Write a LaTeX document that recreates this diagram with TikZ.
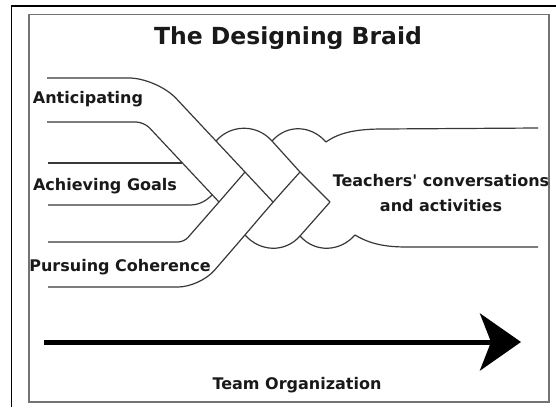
\documentclass[tikz,border=0pt]{standalone}
\usepackage{fontspec}
\newfontfamily\braidfont{DejaVu Sans}
\usetikzlibrary{arrows.meta}
\begin{document}
\begin{tikzpicture}[x=1pt,y=-1pt,
  strand/.style={draw=black!78, line width=1.2pt, line join=round},
  lbl/.style={font=\braidfont\bfseries\fontsize{16}{25}\selectfont, inner sep=0pt, text=black!90},
  titlelbl/.style={font=\braidfont\bfseries\fontsize{23.5}{26}\selectfont, inner sep=0pt, text=black!90},
  outerframe/.style={draw=black, line width=1.3pt},
  innerframe/.style={draw=black!55, line width=1.6pt},
  timeline/.style={draw=black, line width=5pt, -{Stealth[length=41pt, width=57pt, inset=11pt]}}]
\useasboundingbox (0,0) rectangle (556,407);

% frames
\draw[outerframe] (11.5,407) -- (11.5,6) -- (556,6);
\draw[innerframe] (29,14.5) rectangle (549,402);

% braid lattice points
\coordinate (P00) at (216,141);
\coordinate (P20) at (272,141);
\coordinate (P40) at (326,142);
\coordinate (P11) at (245,172);
\coordinate (P31) at (300,172);
\coordinate (P02) at (219,202);
\coordinate (P22) at (273,202);
\coordinate (P42) at (330,202);
\coordinate (P13) at (245,235);
\coordinate (P33) at (300,236);
\coordinate (P53) at (355,235);

% strand 1 (top)
\draw[strand, rounded corners=28pt] (47,78) -- (157,78) -- (P00) -- (P11) -- (P22);
\draw[strand, rounded corners=8pt] (47,122) -- (144,122) -- (P02);
% strand 2 (middle)
\draw[strand] (48,163) -- (182,163);
\draw[strand] (48,205) -- (190,205) .. controls (200,205) and (207,200) .. (212,195);
% strand 3 (bottom)
\draw[strand, rounded corners=6pt] (48,242) -- (184,242) -- (P02) -- (P11);
\draw[strand, rounded corners=22pt] (48,287) -- (200,287) -- (P13) -- (P22) -- (P31);

% turns at the top and bottom of the braid
\draw[strand] (P00) .. controls +(15,-17) and +(-15,-17) .. (P20)
                    .. controls +(15,-17) and +(-15,-17) .. (P40);
\draw[strand] (P13) .. controls +(15,17) and +(-15,17) .. (P33)
                    .. controls +(15,17) and +(-15,17) .. (P53);

% merged band
\draw[strand] (P20) -- (P31) -- (P42) -- (P33);
\draw[strand] (P40) .. controls (340,132) and (358,129) .. (383,129) -- (538,128);
\draw[strand] (P53) .. controls (370,244) and (385,247) .. (407,247) -- (538,247);

% labels
\node[titlelbl, anchor=base] (title) at (288,44) {The Designing Braid};
\node[lbl] (ant) at (88,99) {Anticipating};
\node[lbl] (ach) at (105,186) {Achieving Goals};
\node[lbl] (pur) at (120,267) {Pursuing Coherence};
\node[lbl, align=center] (tea) at (441,193) {Teachers' conversations\\and activities};

% time arrow
\coordinate (arL) at (44,342);
\coordinate (arR) at (521,342);
\draw[timeline] (arL) -- (arR);
\node[lbl] (team) at (297,385) {Team Organization};
\end{tikzpicture}
\end{document}
